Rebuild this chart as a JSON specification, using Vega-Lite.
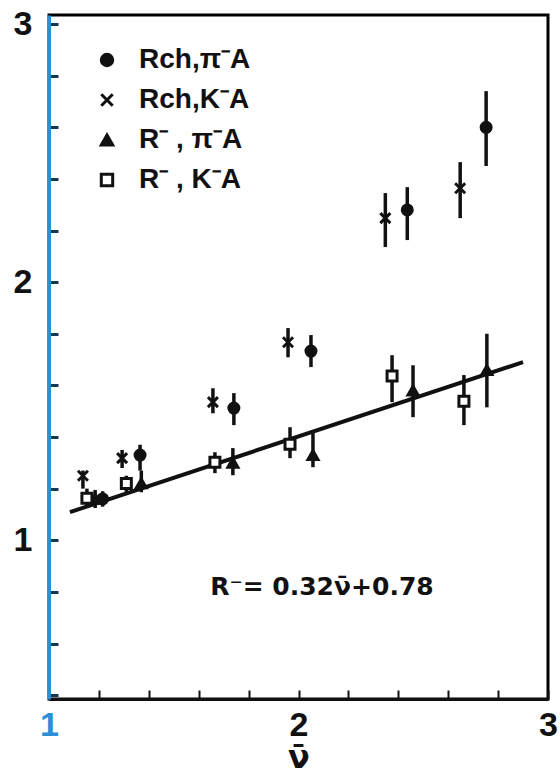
{
  "$schema": "https://vega.github.io/schema/vega-lite/v6.json",
  "width": 499,
  "height": 684,
  "autosize": "none",
  "padding": {"left": 49, "top": 15, "right": 12, "bottom": 76},
  "background": "white",
  "config": {
    "view": {"stroke": "black", "strokeWidth": 3},
    "font": "Liberation Sans",
    "legend": {
      "orient": "none",
      "legendX": 44,
      "legendY": 31,
      "title": null,
      "labelFontSize": 28,
      "labelFontWeight": "bold",
      "labelColor": "#111",
      "labelOffset": 18,
      "rowPadding": 12,
      "symbolSize": 130,
      "symbolStrokeWidth": 3,
      "symbolStrokeColor": "#111"
    }
  },
  "datasets": {
    "pts": [
      {"series": "Rch,π⁻A", "x": 1.215, "y": 1.16, "lo": 1.13, "hi": 1.19},
      {"series": "Rch,π⁻A", "x": 1.365, "y": 1.33, "lo": 1.27, "hi": 1.37},
      {"series": "Rch,π⁻A", "x": 1.741, "y": 1.512, "lo": 1.446, "hi": 1.57},
      {"series": "Rch,π⁻A", "x": 2.05, "y": 1.733, "lo": 1.671, "hi": 1.795},
      {"series": "Rch,π⁻A", "x": 2.436, "y": 2.28, "lo": 2.163, "hi": 2.368},
      {"series": "Rch,π⁻A", "x": 2.752, "y": 2.6, "lo": 2.45, "hi": 2.74},
      {"series": "Rch,K⁻A", "x": 1.136, "y": 1.25, "lo": 1.2, "hi": 1.27},
      {"series": "Rch,K⁻A", "x": 1.293, "y": 1.318, "lo": 1.28, "hi": 1.35},
      {"series": "Rch,K⁻A", "x": 1.657, "y": 1.535, "lo": 1.492, "hi": 1.589},
      {"series": "Rch,K⁻A", "x": 1.958, "y": 1.767, "lo": 1.709, "hi": 1.822},
      {"series": "Rch,K⁻A", "x": 2.348, "y": 2.248, "lo": 2.136, "hi": 2.345},
      {"series": "Rch,K⁻A", "x": 2.648, "y": 2.364, "lo": 2.248, "hi": 2.465},
      {"series": "R⁻ , π⁻A", "x": 1.185, "y": 1.16, "lo": 1.125, "hi": 1.195},
      {"series": "R⁻ , π⁻A", "x": 1.37, "y": 1.22, "lo": 1.186, "hi": 1.27},
      {"series": "R⁻ , π⁻A", "x": 1.737, "y": 1.3, "lo": 1.252, "hi": 1.357},
      {"series": "R⁻ , π⁻A", "x": 2.058, "y": 1.33, "lo": 1.283, "hi": 1.415},
      {"series": "R⁻ , π⁻A", "x": 2.459, "y": 1.58, "lo": 1.477, "hi": 1.678},
      {"series": "R⁻ , π⁻A", "x": 2.755, "y": 1.659, "lo": 1.515, "hi": 1.8},
      {"series": "R⁻ , K⁻A", "x": 1.152, "y": 1.163, "lo": 1.13, "hi": 1.2},
      {"series": "R⁻ , K⁻A", "x": 1.31, "y": 1.22, "lo": 1.186, "hi": 1.25},
      {"series": "R⁻ , K⁻A", "x": 1.665, "y": 1.302, "lo": 1.26, "hi": 1.341},
      {"series": "R⁻ , K⁻A", "x": 1.966, "y": 1.372, "lo": 1.318, "hi": 1.438},
      {"series": "R⁻ , K⁻A", "x": 2.375, "y": 1.636, "lo": 1.535, "hi": 1.717},
      {"series": "R⁻ , K⁻A", "x": 2.663, "y": 1.539, "lo": 1.446, "hi": 1.64}
    ],
    "fit": [
      {"x": 1.084, "y": 1.109},
      {"x": 2.9, "y": 1.69}
    ],
    "note": [
      {"x": 2.094, "y": 0.818, "text": "R⁻= 0.32ν̄+0.78"}
    ]
  },
  "encoding": {
    "x": {
      "type": "quantitative",
      "scale": {"domain": [1, 3], "nice": false, "zero": false},
      "axis": {
        "values": [1, 1.2, 1.4, 1.6, 1.8, 2, 2.2, 2.4, 2.6, 2.8, 3],
        "labelExpr": "(datum.value == 1 || datum.value == 2 || datum.value == 3) ? format(datum.value, 'd') : ''",
        "labelOverlap": false,
        "labelFlush": false,
        "labelBound": false,
        "labelFontSize": 34,
        "labelFontWeight": "bold",
        "labelColor": {"condition": {"test": "datum.value == 1", "value": "#2b8fd6"}, "value": "#111"},
        "labelPadding": 18,
        "tickSize": -9,
        "tickWidth": 2,
        "tickColor": "#111",
        "domainColor": "#111",
        "domainWidth": 3,
        "grid": false,
        "title": "ν̄",
        "titleFont": "DejaVu Sans",
        "titleFontSize": 32,
        "titleFontWeight": "bold",
        "titleColor": "#111",
        "titlePadding": 0
      }
    },
    "y": {
      "type": "quantitative",
      "scale": {"domain": [0.385, 3.035], "nice": false, "zero": false},
      "axis": {
        "values": [0.4, 0.6, 0.8, 1, 1.2, 1.4, 1.6, 1.8, 2, 2.2, 2.4, 2.6, 2.8, 3],
        "labelExpr": "(datum.value == 1 || datum.value == 2 || datum.value == 3) ? format(datum.value, 'd') : ''",
        "labelOverlap": false,
        "labelFlush": false,
        "labelBound": false,
        "labelFontSize": 34,
        "labelFontWeight": "bold",
        "labelColor": "#111",
        "labelPadding": 26,
        "tickSize": -9,
        "tickWidth": 3,
        "tickColor": "#1d3553",
        "domainColor": "#2b8fd6",
        "domainWidth": 3,
        "grid": false,
        "title": null
      }
    }
  },
  "layer": [
    {
      "data": {"name": "pts"},
      "mark": {"type": "rule", "color": "#111", "strokeWidth": 3.5},
      "encoding": {
        "x": {"field": "x", "type": "quantitative"},
        "y": {"field": "lo", "type": "quantitative"},
        "y2": {"field": "hi"}
      }
    },
    {
      "data": {"name": "fit"},
      "mark": {"type": "line", "color": "#111", "strokeWidth": 4},
      "encoding": {
        "x": {"field": "x", "type": "quantitative"},
        "y": {"field": "y", "type": "quantitative"}
      }
    },
    {
      "data": {"name": "pts"},
      "mark": {"type": "point", "strokeWidth": 3, "opacity": 1, "filled": false},
      "encoding": {
        "x": {"field": "x", "type": "quantitative"},
        "y": {"field": "y", "type": "quantitative"},
        "shape": {
          "field": "series",
          "type": "nominal",
          "scale": {
            "domain": ["Rch,π⁻A", "Rch,K⁻A", "R⁻ , π⁻A", "R⁻ , K⁻A"],
            "range": ["circle", "M-1,-1L1,1M1,-1L-1,1", "triangle-up", "square"]
          }
        },
        "fill": {
          "field": "series",
          "type": "nominal",
          "scale": {
            "domain": ["Rch,π⁻A", "Rch,K⁻A", "R⁻ , π⁻A", "R⁻ , K⁻A"],
            "range": ["#111", "#111", "#111", "white"]
          }
        },
        "stroke": {
          "field": "series",
          "type": "nominal",
          "scale": {
            "domain": ["Rch,π⁻A", "Rch,K⁻A", "R⁻ , π⁻A", "R⁻ , K⁻A"],
            "range": ["#111", "#111", "#111", "#111"]
          }
        },
        "size": {"value": 100}
      }
    },
    {
      "data": {"name": "note"},
      "mark": {"type": "text", "font": "DejaVu Sans", "fontSize": 25, "fontWeight": "bold", "color": "#111", "align": "center", "baseline": "middle"},
      "encoding": {
        "x": {"field": "x", "type": "quantitative"},
        "y": {"field": "y", "type": "quantitative"},
        "text": {"field": "text"}
      }
    }
  ]
}
